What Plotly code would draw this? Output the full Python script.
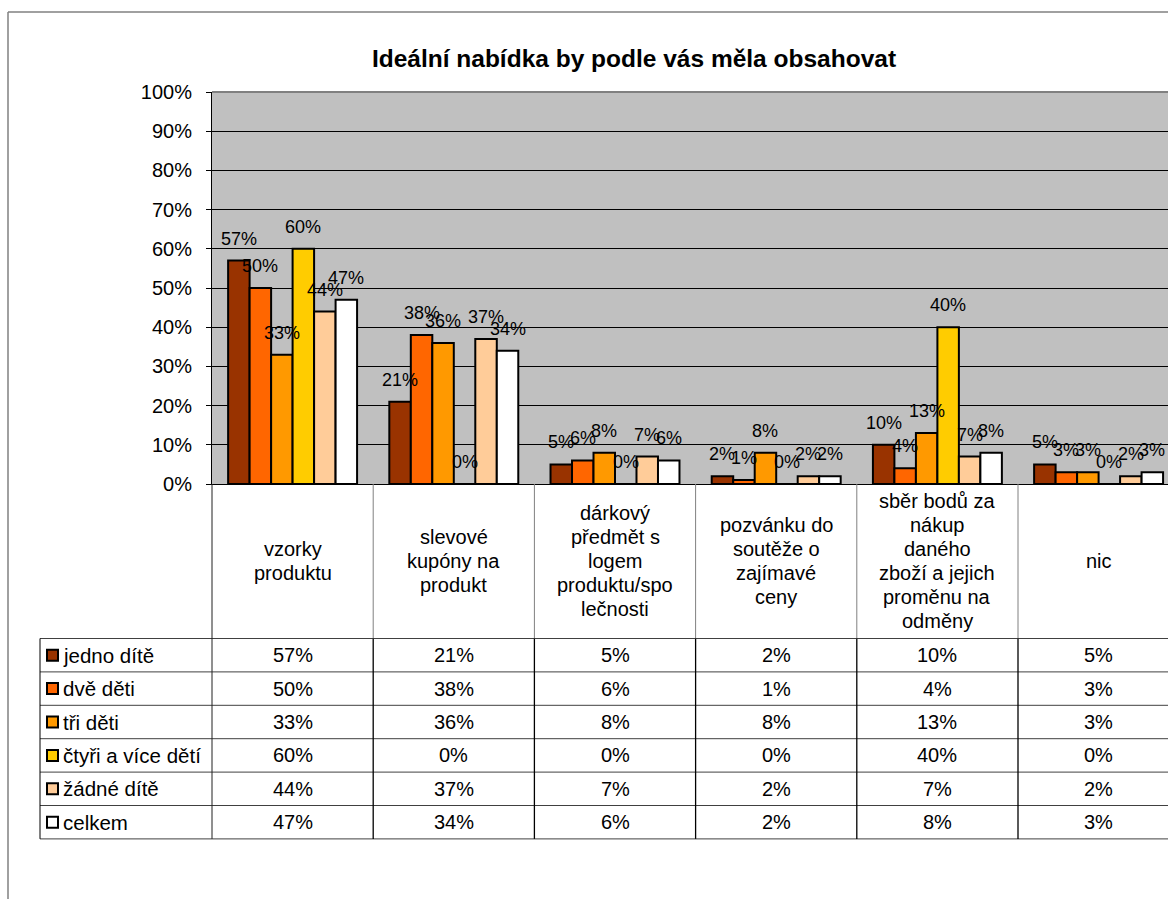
import plotly.graph_objects as go

# ---------------- data ----------------
categories = [
    "vzorky produktu",
    "slevové kupóny na produkt",
    "dárkový předmět s logem produktu/společnosti",
    "pozvánku do soutěže o zajímavé ceny",
    "sběr bodů za nákup daného zboží a jejich proměnu na odměny",
    "nic",
]
category_lines = [
    ["vzorky", "produktu"],
    ["slevové", "kupóny na", "produkt"],
    ["dárkový", "předmět s", "logem", "produktu/spo", "lečnosti"],
    ["pozvánku do", "soutěže o", "zajímavé", "ceny"],
    ["sběr bodů za", "nákup", "daného", "zboží a jejich", "proměnu na", "odměny"],
    ["nic"],
]
series_names = ["jedno dítě", "dvě děti", "tři děti", "čtyři a více dětí", "žádné dítě", "celkem"]
jedno_dite = [57, 21, 5, 2, 10, 5]
dve_deti = [50, 38, 6, 1, 4, 3]
tri_deti = [33, 36, 8, 8, 13, 3]
ctyri_a_vice_deti = [60, 0, 0, 0, 40, 0]
zadne_dite = [44, 37, 7, 2, 7, 2]
celkem = [47, 34, 6, 2, 8, 3]
series_values = [jedno_dite, dve_deti, tri_deti, ctyri_a_vice_deti, zadne_dite, celkem]
series_colors = ["#993300", "#FF6600", "#FF9900", "#FFCC00", "#FFCC99", "#FFFFFF"]
y_tick_values = [0, 10, 20, 30, 40, 50, 60, 70, 80, 90, 100]
y_tick_labels = ["0%", "10%", "20%", "30%", "40%", "50%", "60%", "70%", "80%", "90%", "100%"]
title_text = "Ideální nabídka by podle vás měla obsahovat"

# ---------------- layout geometry (pixels) ----------------
W, H = 1168, 899
L, R, T, B = 212, 1168, 92, 484
PW, PH = R - L, B - T
CAT_W = 161.2
BARGAP = 0.2
HEADER_BOTTOM = 638.5
ROW_H = 33.4
FONT = "Liberation Sans, Arial, sans-serif"


def px_x(px):
    return (px - L) / PW


def px_y(py):
    return (B - py) / PH


fig = go.Figure()
for name, vals, col in zip(series_names, series_values, series_colors):
    fig.add_trace(go.Bar(
        x=categories, y=vals, name=name,
        marker=dict(color=col, line=dict(color="black", width=2)),
        showlegend=False, hoverinfo="skip",
    ))

annotations = []
shapes = []

# data labels above bars
n_series = len(series_values)
bw = (1 - BARGAP) / n_series
for s, vals in enumerate(series_values):
    for i, v in enumerate(vals):
        annotations.append(dict(
            x=i + (s - (n_series - 1) / 2) * bw, y=v, xref="x", yref="y",
            text=f"{v}%", showarrow=False, yanchor="middle", xanchor="center",
            yshift=22, font=dict(family=FONT, size=18, color="black"),
        ))

# category label cells
for i, lines in enumerate(category_lines):
    n = len(lines)
    for j, ln in enumerate(lines):
        cy = (B + HEADER_BOTTOM) / 2 + (j - (n - 1) / 2) * 24
        annotations.append(dict(
            x=i, y=px_y(cy), xref="x", yref="paper", text=ln, showarrow=False,
            xanchor="center", yanchor="middle", font=dict(family=FONT, size=20, color="black"),
        ))

# data table rows
for k, (name, vals, col) in enumerate(zip(series_names, series_values, series_colors)):
    cy = HEADER_BOTTOM + ROW_H * (k + 0.5)
    for i, v in enumerate(vals):
        annotations.append(dict(
            x=i, y=px_y(cy), xref="x", yref="paper", text=f"{v}%", showarrow=False,
            xanchor="center", yanchor="middle", font=dict(family=FONT, size=20, color="black"),
        ))
    annotations.append(dict(
        x=px_x(61), y=px_y(cy), xref="paper", yref="paper", text=name, showarrow=False,
        xanchor="left", yanchor="middle", font=dict(family=FONT, size=20.5, color="black"),
    ))
    shapes.append(dict(
        type="rect", xref="paper", yref="paper",
        x0=px_x(47), x1=px_x(58), y0=px_y(cy - 5.5), y1=px_y(cy + 5.5),
        fillcolor=col, line=dict(color="black", width=2), layer="above",
    ))

# table grid lines
table_bottom = HEADER_BOTTOM + ROW_H * len(series_names)
for k in range(len(series_names) + 1):
    yy = px_y(HEADER_BOTTOM + ROW_H * k)
    shapes.append(dict(type="line", xref="paper", yref="paper", x0=px_x(40), x1=1,
                       y0=yy, y1=yy, line=dict(color="#404040", width=1)))
shapes.append(dict(type="line", xref="paper", yref="paper", x0=px_x(40), x1=px_x(40),
                   y0=px_y(HEADER_BOTTOM), y1=px_y(table_bottom), line=dict(color="black", width=1)))
shapes.append(dict(type="line", xref="paper", yref="paper", x0=0, x1=0,
                   y0=0, y1=px_y(table_bottom), line=dict(color="#202020", width=1)))
for i in range(len(categories) - 1):
    shapes.append(dict(type="line", xref="x", yref="paper", x0=i + 0.5, x1=i + 0.5,
                       y0=0, y1=px_y(HEADER_BOTTOM), line=dict(color="#808080", width=1)))
    shapes.append(dict(type="line", xref="x", yref="paper", x0=i + 0.5, x1=i + 0.5,
                       y0=px_y(HEADER_BOTTOM), y1=px_y(table_bottom), line=dict(color="black", width=1.3)))

# plot area top border
shapes.append(dict(type="line", xref="paper", yref="paper", x0=0, x1=1, y0=1, y1=1,
                   line=dict(color="#808080", width=2)))
# outer chart border
shapes.append(dict(type="line", xref="paper", yref="paper", x0=px_x(8), x1=px_x(W),
                   y0=px_y(12), y1=px_y(12), line=dict(color="#808080", width=1.5)))
shapes.append(dict(type="line", xref="paper", yref="paper", x0=px_x(8), x1=px_x(8),
                   y0=px_y(12), y1=px_y(H + 5), line=dict(color="#808080", width=1.5)))

fig.update_layout(
    width=W, height=H,
    margin=dict(l=L, r=W - R, t=T, b=H - B, pad=0),
    paper_bgcolor="white", plot_bgcolor="#C0C0C0",
    barmode="group", bargap=BARGAP, bargroupgap=0,
    title=dict(text=title_text, x=634 / W, y=1 - 58 / H, xanchor="center", yanchor="middle",
               font=dict(family=FONT, size=24.5, color="black", weight="bold")),
    font=dict(family=FONT, size=20, color="black"),
    annotations=annotations, shapes=shapes,
)
fig.update_xaxes(
    type="category", range=[-0.5, -0.5 + PW / CAT_W], showticklabels=False,
    showline=True, linecolor="black", linewidth=1, ticks="", showgrid=False, fixedrange=True,
)
fig.update_yaxes(
    range=[0, 100], tickmode="array", tickvals=y_tick_values, ticktext=y_tick_labels,
    showline=True, linecolor="black", linewidth=1,
    ticks="outside", ticklen=5, tickcolor="black",
    showgrid=True, gridcolor="black", gridwidth=1, zeroline=False,
    tickfont=dict(family=FONT, size=20, color="black"), ticklabelstandoff=10,
)

fig.write_html("out.html")
